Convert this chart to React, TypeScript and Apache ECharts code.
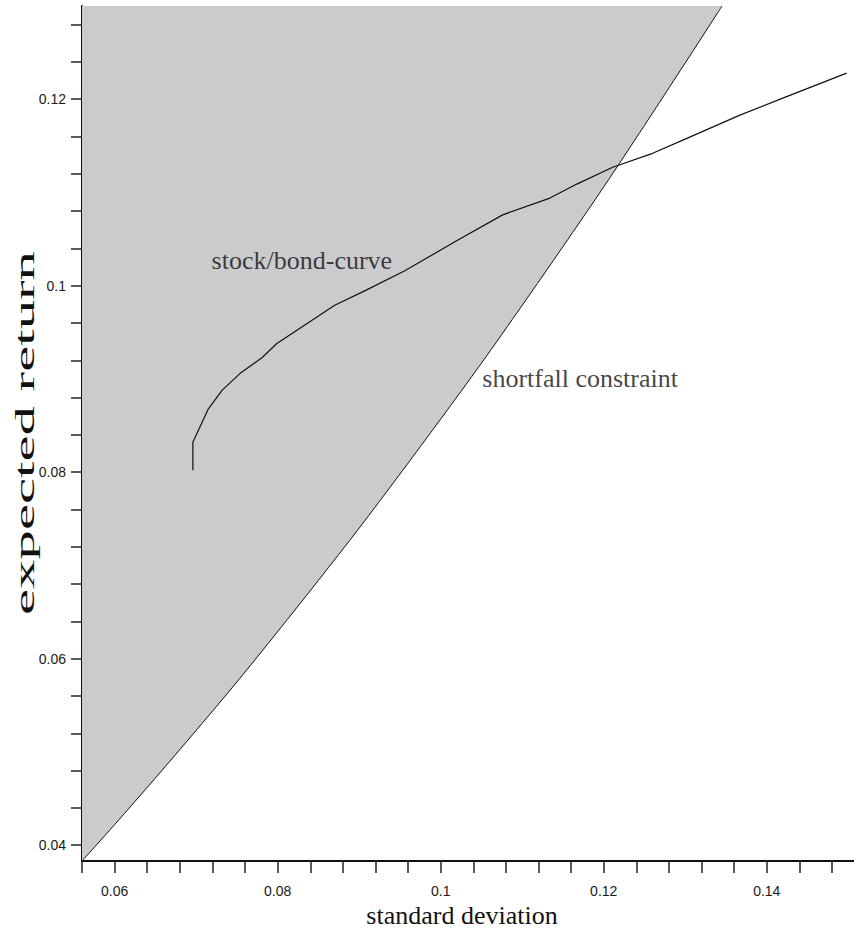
import { useEffect, useRef } from "react";
import * as echarts from "echarts";

// Shortfall constraint boundary (standard deviation, expected return)
const constraintSd = [
  0.056, 0.06, 0.065, 0.07, 0.075, 0.08, 0.085, 0.09, 0.095, 0.1, 0.105, 0.11,
  0.115, 0.12, 0.125, 0.13, 0.134, 0.1345,
];
const constraintRet = [
  0.0383, 0.0422, 0.0472, 0.0523, 0.0575, 0.0629, 0.0684, 0.074, 0.0798, 0.0857,
  0.0917, 0.0979, 0.1042, 0.1106, 0.1172, 0.1239, 0.1293, 0.13,
];

// Stock/bond mixing curve
const curveSd = [
  0.0696, 0.0696, 0.0715, 0.0732, 0.0754, 0.0781, 0.0799, 0.0825, 0.087, 0.0908,
  0.0956, 0.1019, 0.1076, 0.1134, 0.1167, 0.1211, 0.126, 0.1302, 0.1367, 0.1422,
  0.1498,
];
const curveRet = [
  0.0802, 0.0832, 0.0868, 0.0888, 0.0906, 0.0923, 0.0938, 0.0953, 0.0979, 0.0995,
  0.1016, 0.1048, 0.1076, 0.1094, 0.1109, 0.1127, 0.1142, 0.1158, 0.1183, 0.1202,
  0.1228,
];

// Axis ticks and labelled values
const sdTicks = [
  0.056, 0.06, 0.064, 0.068, 0.072, 0.076, 0.08, 0.084, 0.088, 0.092, 0.096, 0.1,
  0.104, 0.108, 0.112, 0.116, 0.12, 0.124, 0.128, 0.132, 0.136, 0.14, 0.144, 0.148,
];
const sdLabels = [0.06, 0.08, 0.1, 0.12, 0.14];
const retTicks = [
  0.04, 0.044, 0.048, 0.052, 0.056, 0.06, 0.064, 0.068, 0.072, 0.076, 0.08, 0.084,
  0.088, 0.092, 0.096, 0.1, 0.104, 0.108, 0.112, 0.116, 0.12, 0.124, 0.128,
];
const retLabels = [0.04, 0.06, 0.08, 0.1, 0.12];

// Curve captions, anchored at their left end
const captionText = ["stock/bond-curve", "shortfall constraint"];
const captionSd = [0.0719, 0.1051];
const captionRet = [0.1027, 0.09];

const SERIF = "'Liberation Serif', 'Times New Roman', serif";
const SANS = "'Liberation Sans Narrow', 'Liberation Sans', Arial, sans-serif";

export default function App() {
  const ref = useRef<HTMLDivElement>(null);

  useEffect(() => {
    if (!ref.current) return;
    const chart = echarts.init(ref.current, undefined, { renderer: "svg" });

    const tickLabel = {
      fontFamily: SANS,
      fontSize: 14,
      color: "#1a1a1a",
      formatter: (v: number) => String(v),
    };

    chart.setOption({
      animation: false,
      backgroundColor: "#ffffff",
      grid: {
        left: 82,
        right: 0,
        top: 6,
        bottom: 69,
        containLabel: false,
        outerBoundsMode: "none",
      },
      xAxis: {
        type: "value",
        min: 0.056,
        max: 0.1507,
        interval: 0.004,
        name: "standard deviation",
        nameLocation: "middle",
        nameGap: 40,
        nameTextStyle: {
          fontFamily: SERIF,
          fontSize: 26,
          color: "#111",
          padding: [0, 12, 0, 0],
        },
        axisLine: { show: true, onZero: false, lineStyle: { color: "#111", width: 2 } },
        axisTick: {
          show: true,
          length: 12,
          customValues: sdTicks,
          lineStyle: { color: "#222", width: 1.5 },
        },
        axisLabel: { ...tickLabel, margin: 23, customValues: sdLabels },
        splitLine: { show: false },
      },
      yAxis: {
        type: "value",
        min: 0.0383,
        max: 0.13,
        interval: 0.004,
        axisLine: { show: true, onZero: false, lineStyle: { color: "#111", width: 2 } },
        axisTick: {
          show: true,
          length: 11,
          customValues: retTicks,
          lineStyle: { color: "#222", width: 1.5 },
        },
        axisLabel: { ...tickLabel, margin: 16, customValues: retLabels },
        splitLine: { show: false },
      },
      // vertical axis title, drawn elongated along its reading direction
      graphic: [
        {
          type: "text",
          x: 25,
          y: 433,
          rotation: Math.PI / 2,
          scaleX: 2.1,
          scaleY: 1,
          silent: true,
          style: {
            text: "expected return",
            fontFamily: SERIF,
            fontSize: 28,
            fill: "#111",
            align: "center",
            verticalAlign: "middle",
            textAlign: "center",
            textVerticalAlign: "middle",
          },
        },
      ],
      series: [
        {
          name: "shortfall constraint",
          type: "line",
          data: constraintSd.map((sd, i) => [sd, constraintRet[i]]),
          showSymbol: false,
          symbol: "none",
          smooth: 0.3,
          lineStyle: { color: "#111", width: 1 },
          areaStyle: { color: "#cbcbcd", opacity: 1, origin: "end" },
          z: 1,
        },
        {
          name: "stock/bond-curve",
          type: "line",
          data: curveSd.map((sd, i) => [sd, curveRet[i]]),
          showSymbol: false,
          symbol: "none",
          lineStyle: { color: "#111", width: 1.2 },
          z: 3,
        },
        {
          name: "captions",
          type: "scatter",
          symbolSize: 0,
          silent: true,
          data: captionText.map((t, i) => ({ value: [captionSd[i], captionRet[i]], name: t })),
          label: {
            show: true,
            position: "right",
            distance: 0,
            formatter: (p: any) => p.name,
            fontFamily: SERIF,
            fontSize: 26,
            color: "#111",
          },
          z: 4,
        },
      ],
    });

    return () => chart.dispose();
  }, []);

  return (
    <div
      ref={ref}
      style={{ position: "absolute", left: 0, top: 0, width: 854, height: 930 }}
    />
  );
}
